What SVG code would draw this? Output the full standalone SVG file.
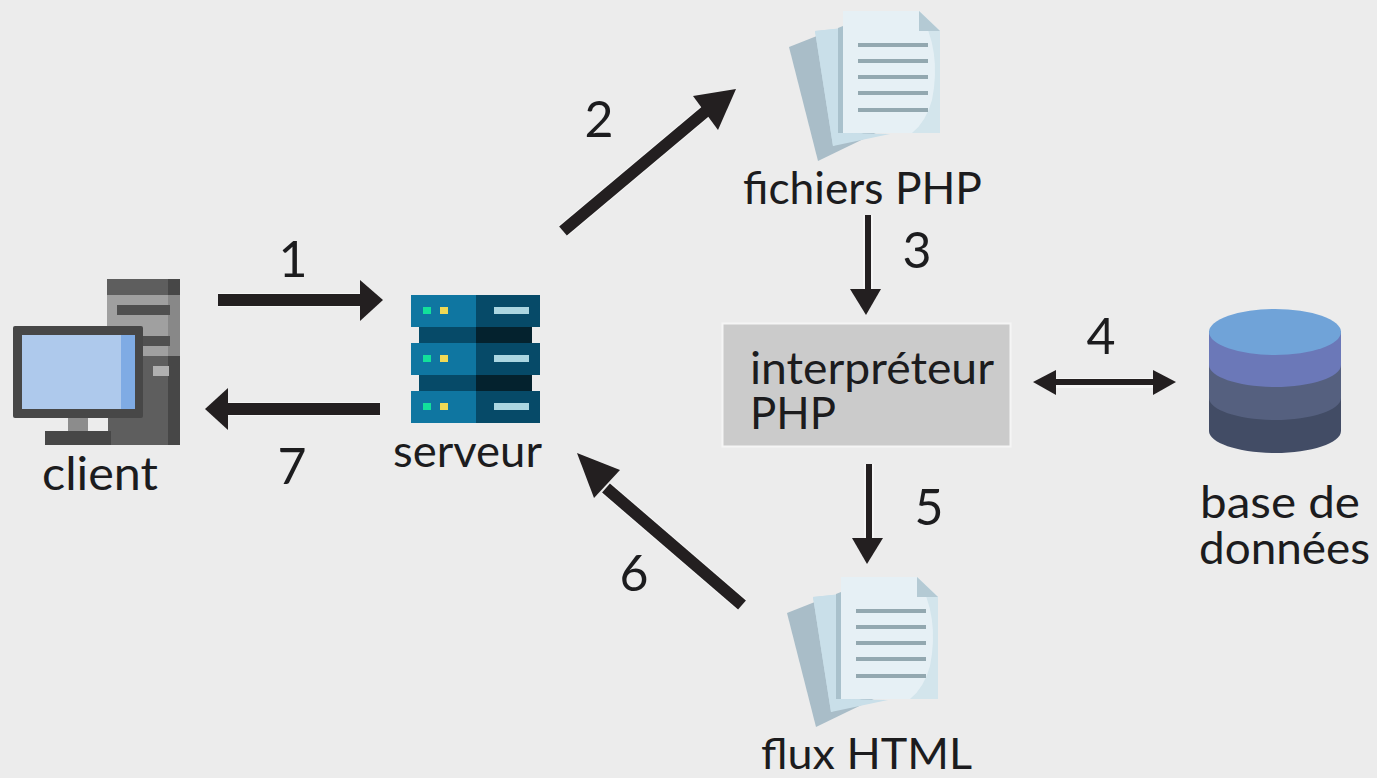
<svg xmlns="http://www.w3.org/2000/svg" width="1377" height="778" viewBox="0 0 1377 778">
<style>
text{font-family:"Lato","Open Sans","Liberation Sans",sans-serif;fill:#1c1c1e}
.n{font-size:50px}
.c{stroke:#231f20;fill:none}
.h{fill:#231f20}
.halo{stroke:#f5f5f5;fill:none}
</style>
<defs>
<g id="doc">
<path d="M19 47 62 30 L112 130 L48 161Z" fill="#a9bdc8"/>
<path d="M45 31 96 26 V132 L63 146 Z" fill="#c8dde7"/>
<path d="M63 146 L45 31 L73 28 V133 L120 134 Z" fill="#c9dfe9"/>
<path d="M73 11H149L170 31V133H73Z" fill="#e6f0f5"/>
<path d="M149 11Q172 50 162 100Q156 122 142 133H170V31Z" fill="#d3e5ec"/>
<path d="M149 11 170 31H149Z" fill="#b4cad4"/>
<path d="M73 26V133H68V28Z" fill="#a9c1cc"/>
<g fill="#93a8b0"><rect x="88" y="43" width="70" height="4"/><rect x="88" y="59" width="70" height="4"/><rect x="88" y="75" width="70" height="4"/><rect x="88" y="91" width="70" height="4"/><rect x="88" y="108" width="70" height="4"/></g>
</g>
<g id="unit">
<rect width="65" height="32" fill="#0f76a1"/>
<rect x="65" width="64" height="32" fill="#064a68"/>
<rect x="12" y="12" width="8" height="7" fill="#12e09b"/>
<rect x="29" y="12" width="8" height="7" fill="#eed955"/>
<rect x="83" y="12" width="35" height="7" fill="#abd6e1"/>
</g>
</defs>
<rect width="1377" height="778" fill="#ececec"/>
<g id="connectors">
<path class="halo" stroke-width="14" d="M218 300H362M380 409H228M563 231 706 111M742 605 606 488"/>
<path class="halo" stroke-width="10" d="M868 215V292M869 464V540M1056 383H1154"/>
<path class="c" stroke-width="12" d="M218 300H362"/>
<polygon class="h" points="360,280 383,300 360,321"/>
<path class="c" stroke-width="12" d="M380 409H226"/>
<polygon class="h" points="228,388 205,409 228,430"/>
<path class="c" stroke-width="12" d="M563 231 706 111"/>
<polygon class="h" points="693,96 736,89 718,130"/>
<path class="c" stroke-width="6" d="M868 215V292"/>
<polygon class="h" points="850,289 881,289 866,315"/>
<path class="c" stroke-width="6" d="M869 464V540"/>
<polygon class="h" points="852,538 883,538 867,564"/>
<path class="c" stroke-width="12" d="M742 605 606 488"/>
<polygon class="h" points="620,470 577,453 594,498"/>
<path class="c" stroke-width="6" d="M1054 382H1156"/>
<polygon class="h" points="1056,370 1033,382 1056,395"/>
<polygon class="h" points="1153,370 1176,382 1153,395"/>
</g>
<g id="client">
<rect x="107" y="279" width="73" height="166" fill="#5e5e5e"/>
<rect x="107" y="295" width="73" height="61" fill="#a0a0a0"/>
<rect x="168" y="279" width="12" height="166" fill="#474747"/>
<rect x="168" y="295" width="12" height="61" fill="#888"/>
<rect x="117" y="305" width="53" height="10" fill="#505050"/>
<rect x="130" y="336" width="40" height="10" fill="#505050"/>
<rect x="153" y="366" width="16" height="10" fill="#b0b0b0"/>
<rect x="68" y="418" width="40" height="14" fill="#ececec"/>
<rect x="68" y="418" width="20" height="14" fill="#8c8c8c"/>
<rect x="45" y="431" width="66" height="14" fill="#474747"/>
<rect x="13" y="326" width="130" height="92" rx="2" fill="#474747"/>
<rect x="22" y="335" width="113" height="74" fill="#aec9ec"/>
<rect x="121" y="335" width="14" height="74" fill="#7fabe4"/>
<text x="42" y="490" font-size="47" textLength="116" lengthAdjust="spacingAndGlyphs">client</text>
</g>
<g id="serveur">
<rect x="419" y="327" width="57" height="16" fill="#064a68"/>
<rect x="476" y="327" width="56" height="16" fill="#04222e"/>
<rect x="419" y="375" width="57" height="17" fill="#064a68"/>
<rect x="476" y="375" width="56" height="17" fill="#04222e"/>
<use href="#unit" x="411" y="295"/>
<use href="#unit" x="411" y="343"/>
<use href="#unit" x="411" y="391"/>
<text x="393" y="467" font-size="44" textLength="149" lengthAdjust="spacingAndGlyphs">serveur</text>
</g>
<g id="fichiers-php">
<use href="#doc" x="770" y="0"/>
<text x="743" y="204" font-size="44" textLength="239" lengthAdjust="spacingAndGlyphs">fichiers PHP</text>
</g>
<g id="interpreteur">
<rect x="722.500" y="323.500" width="288" height="123" fill="#cbcbcb" stroke="#f5f5f5" stroke-width="2"/>
<text x="750" y="384" font-size="45" textLength="244" lengthAdjust="spacingAndGlyphs">interpréteur</text>
<text x="750" y="429" font-size="45" textLength="86" lengthAdjust="spacingAndGlyphs">PHP</text>
</g>
<g id="base-de-donnees">
<path d="M1209 331V431C1209 443 1239 453 1275 453S1341 443 1341 431V331Z" fill="#424c65"/>
<path d="M1209 331V398C1209 410 1239 420 1275 420S1341 410 1341 398V331Z" fill="#55607f"/>
<path d="M1209 331V365C1209 377 1239 387 1275 387S1341 377 1341 365V331Z" fill="#6b78b8"/>
<ellipse cx="1275" cy="332" rx="66" ry="23" fill="#70a3d8"/>
<text x="1200" y="518" font-size="45" textLength="160" lengthAdjust="spacingAndGlyphs">base de</text>
<text x="1199" y="564" font-size="45" textLength="171" lengthAdjust="spacingAndGlyphs">données</text>
</g>
<g id="flux-html">
<use href="#doc" x="768" y="566"/>
<text x="761" y="769" font-size="43" textLength="211" lengthAdjust="spacingAndGlyphs">flux HTML</text>
</g>
<g id="labels">
<text class="n" x="293" y="277" text-anchor="middle">1</text>
<text class="n" x="599" y="137" text-anchor="middle">2</text>
<text class="n" x="917" y="268" text-anchor="middle">3</text>
<text class="n" x="1101" y="354" text-anchor="middle">4</text>
<text class="n" x="929" y="525" text-anchor="middle">5</text>
<text class="n" x="634" y="591" text-anchor="middle">6</text>
<text class="n" x="292" y="484" text-anchor="middle">7</text>
</g>
</svg>
